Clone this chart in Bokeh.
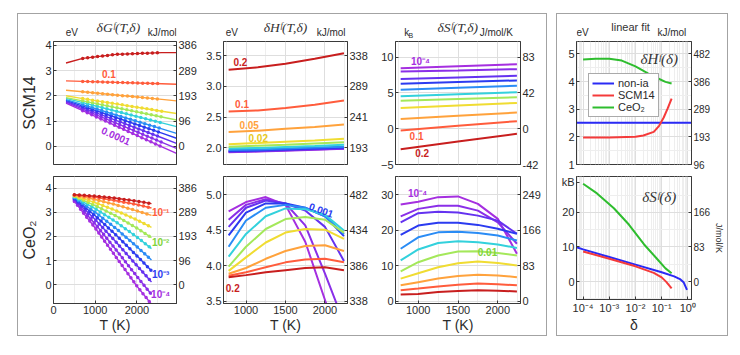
import math
from bokeh.plotting import figure
from bokeh.models import (Range1d, LinearAxis, FixedTicker, CustomJSTickFormatter,
                          Label, Legend, LegendItem)
from bokeh.layouts import row, column
from bokeh.embed import file_html
from bokeh.resources import INLINE

# ---------------- data ----------------
delta_names = ["1e-4", "2e-4", "5e-4", "1e-3", "2e-3", "5e-3", "0.01", "0.02", "0.05", "0.1", "0.2"]
colors = ["#a52fe0", "#8a2fe8", "#6432f0", "#2b3bf0", "#2a8cf5", "#33d1dc",
          "#a4e85a", "#f0dc32", "#ffa23c", "#ff5c3c", "#c81e1e"]

# dG(T) SCM14 [eV]
T_G_SCM = [300, 700, 1500, 2600, 2950]
G_SCM = [
    [1.71, 1.41, 0.81, -0.02, -0.28],
    [1.75, 1.47, 0.92, 0.16, -0.08],
    [1.78, 1.53, 1.03, 0.34, 0.12],
    [1.82, 1.59, 1.14, 0.52, 0.32],
    [1.85, 1.65, 1.24, 0.69, 0.51],
    [1.90, 1.73, 1.39, 0.93, 0.78],
    [1.93, 1.80, 1.53, 1.16, 1.04],
    [2.00, 1.89, 1.68, 1.39, 1.30],
    [2.22, 2.16, 2.03, 1.86, 1.80],
    [2.59, 2.57, 2.53, 2.48, 2.46],
    [3.30, 3.48, 3.64, 3.71, 3.71],
]
# dG(T) CeO2 [eV]
T_G_CEO = [500, 1000, 1500, 2000, 2350]
G_CEO = [
    [3.45, 2.35, 1.15, -0.05, -0.80],
    [3.50, 2.52, 1.45, 0.35, -0.40],
    [3.54, 2.70, 1.77, 0.80, 0.12],
    [3.57, 2.86, 2.06, 1.20, 0.58],
    [3.60, 3.00, 2.33, 1.58, 1.03],
    [3.63, 3.15, 2.60, 1.98, 1.50],
    [3.66, 3.28, 2.85, 2.35, 1.95],
    [3.68, 3.40, 3.07, 2.69, 2.38],
    [3.70, 3.53, 3.31, 3.06, 2.87],
    [3.72, 3.62, 3.48, 3.32, 3.18],
    [3.73, 3.67, 3.58, 3.46, 3.36],
]
# dH(T) SCM14 [eV]
T_H_SCM = [780, 1150, 1500, 1870, 2240]
H_SCM = [
    [1.930, 1.940, 1.955, 1.970, 1.985],
    [1.935, 1.945, 1.960, 1.975, 1.990],
    [1.940, 1.950, 1.965, 1.980, 1.995],
    [1.950, 1.960, 1.975, 1.990, 2.005],
    [1.965, 1.975, 1.990, 2.005, 2.020],
    [1.990, 2.000, 2.015, 2.030, 2.050],
    [2.020, 2.035, 2.050, 2.070, 2.090],
    [2.060, 2.080, 2.100, 2.120, 2.150],
    [2.260, 2.280, 2.310, 2.340, 2.380],
    [2.590, 2.610, 2.650, 2.700, 2.770],
    [3.270, 3.310, 3.370, 3.450, 3.540],
]
# dH(T) CeO2 [eV]
T_HS_CEO = [780, 1000, 1250, 1500, 1750, 2000, 2240]
H_CEO = [
    [4.77, 4.90, 4.97, 4.86, 4.34, 3.52, 2.70],
    [4.65, 4.86, 4.94, 4.88, 4.57, 3.89, 3.20],
    [4.55, 4.82, 4.92, 4.88, 4.78, 4.55, 4.07],
    [4.43, 4.75, 4.88, 4.88, 4.82, 4.70, 4.42],
    [4.27, 4.64, 4.82, 4.86, 4.82, 4.70, 4.45],
    [4.13, 4.45, 4.70, 4.81, 4.80, 4.72, 4.50],
    [3.99, 4.27, 4.52, 4.66, 4.69, 4.65, 4.47],
    [3.93, 4.12, 4.33, 4.47, 4.52, 4.51, 4.38],
    [3.89, 3.97, 4.10, 4.21, 4.28, 4.29, 4.21],
    [3.86, 3.91, 3.98, 4.05, 4.09, 4.10, 4.05],
    [3.84, 3.87, 3.91, 3.94, 3.97, 3.98, 3.94],
]
# dS(T) SCM14 [kB]
T_S_SCM = [780, 1500, 2240]
S_SCM = [
    [8.47, 8.75, 9.03],
    [8.00, 8.15, 8.33],
    [6.94, 7.17, 7.40],
    [6.30, 6.53, 6.76],
    [5.46, 5.74, 6.02],
    [4.54, 4.82, 5.10],
    [3.93, 4.17, 4.40],
    [2.89, 3.25, 3.61],
    [1.37, 1.82, 2.27],
    [-0.24, 0.41, 1.06],
    [-2.88, -1.79, -0.70],
]
# dS(T) CeO2 [kB]
S_CEO = [
    [27.2, 28.0, 29.3, 29.5, 27.4, 23.2, 13.4],
    [23.9, 26.0, 26.9, 26.9, 25.5, 22.2, 16.2],
    [22.2, 24.8, 25.2, 25.0, 24.1, 22.7, 19.0],
    [18.7, 21.3, 22.1, 22.1, 21.5, 20.4, 19.0],
    [14.8, 18.0, 19.4, 19.6, 19.2, 18.5, 17.1],
    [11.5, 14.6, 16.4, 16.9, 16.6, 16.0, 15.0],
    [8.4, 11.0, 12.9, 14.0, 14.1, 13.6, 12.9],
    [6.4, 7.9, 9.6, 10.7, 11.2, 10.8, 10.1],
    [4.5, 5.4, 6.4, 7.1, 7.5, 7.3, 6.8],
    [3.1, 3.6, 4.2, 4.7, 5.0, 4.8, 4.5],
    [1.9, 2.1, 2.6, 2.9, 3.1, 3.0, 2.8],
]
# linear fit: dH(delta), dS(delta)
fit_names = ["non-ia", "SCM14", "CeO\u2082"]
fit_colors = ["#2a2af5", "#f53a3a", "#2ebd2e"]
d_nonia_H = [5.6e-5, 1.38]
H_nonia = [2.51, 2.51]
d_scm_H = [1e-4, 1e-3, 1e-2, 0.02, 0.05, 0.08, 0.12, 0.17, 0.24]
H_scm_fit = [1.98, 1.98, 2.00, 2.05, 2.18, 2.40, 2.70, 3.03, 3.38]
d_ceo_H = [1e-4, 3e-4, 1e-3, 3e-3, 0.01, 0.03, 0.07, 0.14, 0.24]
H_ceo_fit = [4.80, 4.83, 4.83, 4.76, 4.55, 4.30, 4.12, 3.99, 3.93]
d_nonia_S = [5.6e-5, 1e-4, 1e-3, 1e-2, 0.1, 0.3, 0.5, 0.7, 0.93]
S_nonia = [9.9, 9.3, 7.1, 4.9, 2.7, 1.5, 0.7, -0.3, -2.4]
d_scm_S = [1e-4, 1e-3, 1e-2, 0.05, 0.1, 0.15, 0.24]
S_scm_fit = [8.7, 6.6, 4.4, 2.5, 1.2, -0.1, -2.0]
d_ceo_S = [1e-4, 3.4e-4, 1.5e-3, 5.6e-3, 0.021, 0.066, 0.14, 0.24]
S_ceo_fit = [28.3, 25.5, 21.2, 16.5, 10.8, 6.6, 3.8, 2.4]

EV_KJ = 96.485   # eV -> kJ/mol
KB_J = 8.314     # kB -> J/mol/K

# ---------------- styling helpers ----------------
FONT = "Liberation Sans"
SERIF = "Liberation Serif"
TXT = "#2b2b2b"
AX = "#3a3a3a"
HEAD_H = 24

LOG_FMT = CustomJSTickFormatter(code="""
const e = Math.round(Math.log10(tick));
const m = {'-':'\u207b','0':'\u2070','1':'\u00b9','2':'\u00b2','3':'\u00b3','4':'\u2074'};
return '10' + String(e).split('').map(c => m[c]).join('');
""")
FIX1_FMT = CustomJSTickFormatter(code="return tick.toFixed(1);")


def conv_fmt(f):
    return CustomJSTickFormatter(args=dict(f=f), code="return Math.round(tick*f).toString();")


def style_axis(ax, size="11px"):
    ax.major_tick_in = 3
    ax.major_tick_out = 0
    ax.minor_tick_in = 0
    ax.minor_tick_out = 0
    ax.axis_line_color = AX
    ax.major_tick_line_color = AX
    ax.major_label_text_font = FONT
    ax.major_label_text_color = TXT
    ax.major_label_text_font_size = size
    ax.major_label_standoff = 2
    ax.axis_label_text_font = FONT
    ax.axis_label_text_color = TXT
    ax.axis_label_text_font_style = "normal"


class Panel:
    def __init__(self, w, h, bl, br, bt, bb, xr, yr, xt, xminor, yt, yminor,
                 yconv, xlog=False, show_x=False, ylabel_ticks=None, yformatter=None):
        self.w, self.bl = w, bl
        self.fw = w - bl - br
        self.fh = h - bt - bb
        p = figure(width=w, height=h, min_border_left=bl, min_border_right=br,
                   min_border_top=bt, min_border_bottom=bb,
                   x_range=Range1d(*xr), y_range=Range1d(*yr),
                   x_axis_type="log" if xlog else "linear",
                   output_backend="svg", toolbar_location=None, tools="")
        p.background_fill_color = "white"
        p.border_fill_color = "white"
        p.outline_line_color = AX
        p.outline_line_width = 1
        xa, ya = p.below[0], p.left[0]
        xa.ticker = FixedTicker(ticks=xt, minor_ticks=xminor)
        ya.ticker = FixedTicker(ticks=ylabel_ticks or yt, minor_ticks=yminor)
        if xlog:
            xa.formatter = LOG_FMT
        if yformatter is not None:
            ya.formatter = yformatter
        style_axis(xa)
        style_axis(ya)
        if not show_x:
            xa.visible = False
        ra = LinearAxis(ticker=FixedTicker(ticks=yt), formatter=conv_fmt(yconv))
        style_axis(ra)
        p.add_layout(ra, "right")
        p.xgrid.ticker = FixedTicker(ticks=xt, minor_ticks=xminor)
        p.ygrid.ticker = FixedTicker(ticks=yt, minor_ticks=yminor)
        p.xgrid.grid_line_color = "#dedede"
        p.xgrid.minor_grid_line_color = "#eeeeee"
        p.ygrid.grid_line_color = "#dedede"
        p.ygrid.minor_grid_line_color = "#eeeeee"
        self.p = p
        self.right_axis = ra

    def text(self, x, y, t, color=TXT, size="10px", font=FONT, style="bold", angle=0.0):
        self.p.add_layout(Label(x=x, y=y, text=t, text_color=color, text_font=font,
                                text_font_size=size, text_font_style=style,
                                text_align="center", text_baseline="middle", angle=angle))


def header(P, title, left_unit, right_unit, lx, rx, title_style="italic",
           title_font=SERIF, title_size="13.5px", left_sub=None):
    """A small strip above a panel holding its title and units (pixel ranges)."""
    h = figure(width=P.w, height=HEAD_H, x_range=Range1d(0, P.w), y_range=Range1d(0, HEAD_H),
               x_axis_location=None, y_axis_location=None, min_border=0,
               output_backend="svg", toolbar_location=None, tools="")
    h.outline_line_color = None
    h.background_fill_color = "white"
    h.border_fill_color = "white"
    h.grid.visible = False

    def lab(x, y, t, size, font=FONT, style="normal", color=TXT):
        h.add_layout(Label(x=x, y=y, text=t, text_font=font, text_font_size=size,
                           text_font_style=style, text_color=color,
                           text_align="center", text_baseline="middle"))
    fl, fr = P.bl, P.bl + P.fw
    lab((fl + fr) / 2, 11.5, title, title_size, font=title_font, style=title_style, color="#333333")
    lab(fl + lx, 6, left_unit, "10px")
    if left_sub:
        lab(fl + lx + 5.5, 3.5, left_sub, "7px")
    lab(fr + rx, 6, right_unit, "10px")
    return h


T_X_A = ([0, 1000, 2000], [500, 1500, 2500])
T_X_B = ([1000, 1500, 2000], [750, 1250, 1750, 2250])
LOG_T = [1e-4, 1e-3, 1e-2, 1e-1, 1.0]
LOG_M = [m * 10.0 ** e for e in range(-5, 1) for m in range(2, 10)]

XR_A = (0, 2950)
XR_B = (715, 2285)
XR_D = (5.6e-5, 1.38)

H1 = 156 - HEAD_H  # top-row panel height

# ---------------- left block ----------------
A1 = Panel(182, H1, 34, 24, 3, 6, XR_A, (-0.72, 4.15), *T_X_A, [0, 1, 2, 3, 4], [], EV_KJ)
B1 = Panel(170, H1, 23, 23, 3, 6, XR_B, (1.73, 3.73), *T_X_B, [2.0, 2.5, 3.0, 3.5], [], EV_KJ,
           yformatter=FIX1_FMT)
C1 = Panel(176, H1, 25, 26, 3, 6, XR_B, (-5.0, 12.2), *T_X_B, [-5, 0, 5, 10], [], KB_J)
A2 = Panel(182, 165, 34, 24, 6, 32, XR_A, (-0.77, 4.48), *T_X_A, [0, 1, 2, 3, 4], [], EV_KJ,
           show_x=True)
B2 = Panel(170, 165, 23, 23, 6, 32, XR_B, (3.47, 5.26), *T_X_B, [3.5, 4.0, 4.5, 5.0], [], EV_KJ,
           show_x=True, yformatter=FIX1_FMT)
C2 = Panel(176, 165, 25, 26, 6, 32, XR_B, (-0.6, 35.1), *T_X_B, [0, 10, 20, 30], [], KB_J,
           show_x=True)

A1.p.left[0].axis_label = "SCM14"
A2.p.left[0].axis_label = "CeO\u2082"
for P in (A1, A2):
    P.p.left[0].axis_label_text_font_size = "16px"
    P.p.left[0].axis_label_standoff = 4
for P in (A2, B2, C2):
    P.p.below[0].axis_label = "T (K)"
    P.p.below[0].axis_label_text_font_size = "14px"
    P.p.below[0].axis_label_standoff = 0

for i in range(len(delta_names)):
    c = colors[i]
    A1.p.line(T_G_SCM, G_SCM[i], color=c, line_width=1.4)
    A1.p.line(T_G_SCM[1:4], G_SCM[i][1:4], color=c, line_width=3.5, line_dash="0 5",
              line_cap="round")
    A2.p.line(T_G_CEO, G_CEO[i], color=c, line_width=1.4)
    A2.p.line(T_G_CEO, G_CEO[i], color=c, line_width=3.5, line_dash="0 5", line_cap="round")
    B1.p.line(T_H_SCM, H_SCM[i], color=c, line_width=2)
    B2.p.line(T_HS_CEO, H_CEO[i], color=c, line_width=2)
    C1.p.line(T_S_SCM, S_SCM[i], color=c, line_width=2)
    C2.p.line(T_HS_CEO, S_CEO[i], color=c, line_width=2)

hA = header(A1, "\u03b4G\u1da0(T,\u03b4)", "eV", "kJ/mol", -7, 3)
hB = header(B1, "\u03b4H\u1da0(T,\u03b4)", "eV", "kJ/mol", -11.5, 0.5)
hC = header(C1, "\u03b4S\u1da0(T,\u03b4)", "k", "J/mol/K", -9, -8, left_sub="B")

# in-plot annotations
A1.text(1330, 2.88, "0.1", color=colors[9])
A1.text(1500, 0.42, "0.0001", color=colors[0], angle=-0.42)
A2.text(2570, 2.99, "10\u207b\u00b9", color=colors[9])
A2.text(2570, 1.75, "10\u207b\u00b2", color="#7fd43a")
A2.text(2570, 0.44, "10\u207b\u00b3", color=colors[3])
A2.text(2570, -0.39, "10\u207b\u2074", color=colors[0])
B1.text(929, 3.40, "0.2", color=colors[10])
B1.text(950, 2.72, "0.1", color=colors[9])
B1.text(1040, 2.38, "0.05", color=colors[8])
B1.text(1155, 2.16, "0.02", color="#e8c820")
B2.text(832, 3.69, "0.2", color=colors[10])
B2.text(1955, 4.79, "0.001", color=colors[3], angle=-0.35)
C1.text(1029, 9.4, "10\u207b\u2074", color=colors[0])
C1.text(979, -1.0, "0.1", color=colors[9])
C1.text(1050, -3.4, "0.2", color=colors[10])
C2.text(992, 30.4, "10\u207b\u2074", color=colors[0])
C2.text(1870, 13.8, "0.01", color="#7fd43a")

# ---------------- right block ----------------
KB_FMT = CustomJSTickFormatter(code="return tick > 25 ? 'kB' : tick.toString();")
D1 = Panel(170, H1, 19, 29, 3, 6, XR_D, (1.0, 5.45), LOG_T, LOG_M,
           [1, 2, 3, 4, 5], [1.5, 2.5, 3.5, 4.5], EV_KJ, xlog=True)
D2 = Panel(170, 165, 19, 29, 6, 32, XR_D, (-5.2, 30.4), LOG_T, LOG_M,
           [0, 10, 20], [-5, 5, 15, 25], KB_J, xlog=True, show_x=True,
           ylabel_ticks=[0, 10, 20, 28.8], yformatter=KB_FMT)
D2.p.below[0].axis_label = "\u03b4"
D2.p.below[0].axis_label_text_font_size = "14px"
D2.p.below[0].axis_label_standoff = 0
for P in (D1, D2):
    P.right_axis.major_label_text_font_size = "10px"
D2.right_axis.axis_label = "J/mol/K"
D2.right_axis.axis_label_text_font_size = "9px"
D2.right_axis.axis_label_standoff = 1

r_n = D1.p.line(d_nonia_H, H_nonia, color=fit_colors[0], line_width=2)
r_s = D1.p.line(d_scm_H, H_scm_fit, color=fit_colors[1], line_width=2)
r_c = D1.p.line(d_ceo_H, H_ceo_fit, color=fit_colors[2], line_width=2)
D2.p.line(d_nonia_S, S_nonia, color=fit_colors[0], line_width=2)
D2.p.line(d_scm_S, S_scm_fit, color=fit_colors[1], line_width=2)
D2.p.line(d_ceo_S, S_ceo_fit, color=fit_colors[2], line_width=2)

legend = Legend(items=[LegendItem(label=fit_names[0], renderers=[r_n]),
                       LegendItem(label=fit_names[1], renderers=[r_s]),
                       LegendItem(label=fit_names[2], renderers=[r_c])],
                location=(12, 47))
legend.label_text_font = FONT
legend.label_text_font_size = "11px"
legend.label_text_color = TXT
legend.label_height = 12
legend.label_standoff = 4
legend.glyph_width = 22
legend.glyph_height = 12
legend.spacing = 0
legend.padding = 3
legend.margin = 0
legend.border_line_color = "#555555"
legend.background_fill_alpha = 1.0
D1.p.add_layout(legend)

hD = header(D1, "linear fit", "eV", "kJ/mol", -10, 0, title_style="normal",
            title_font=FONT, title_size="11px")
D1.text(0.081, 4.83, "\u03b4H\u1da0(\u03b4)", color="#333333", size="15px", font=SERIF,
        style="italic")
D2.text(0.081, 24.5, "\u03b4S\u1da0(\u03b4)", color="#333333", size="15px", font=SERIF,
        style="italic")

# ---------------- layout ----------------
left = row(column(hA, A1.p, A2.p), column(hB, B1.p, B2.p), column(hC, C1.p, C2.p))
left.margin = (14, 0, 0, 18)
left.styles = {"outline": "1.5px solid #a3a3a3"}
right = column(hD, D1.p, D2.p)
right.margin = (14, 0, 0, 11)
right.styles = {"outline": "1.5px solid #a3a3a3"}
layout = row(left, right)

open("out.html", "w").write(file_html(layout, INLINE))
